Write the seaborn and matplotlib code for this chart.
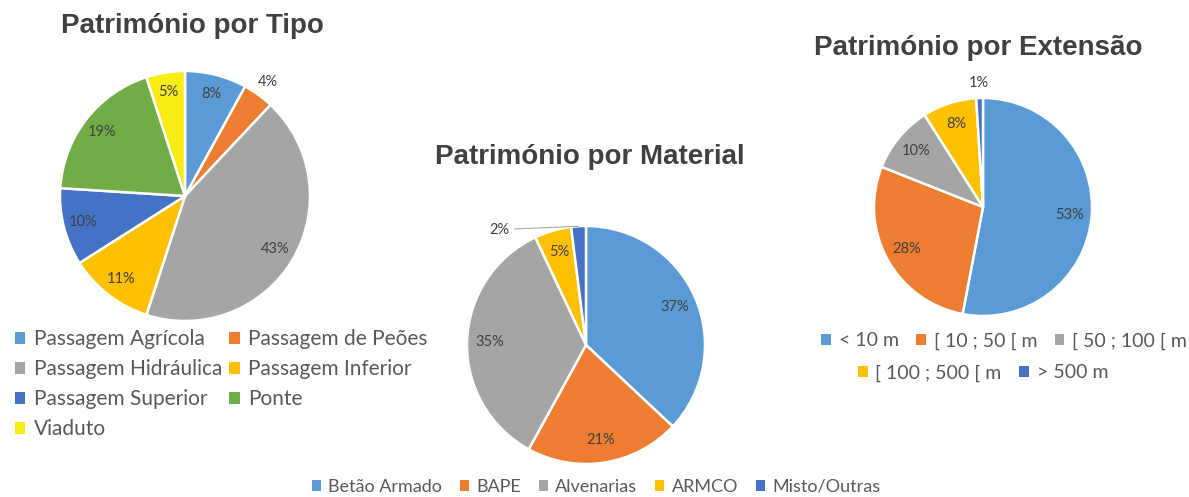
import numpy as np
import matplotlib
matplotlib.use("Agg")
import matplotlib.pyplot as plt
import seaborn as sns
from matplotlib.patches import Patch

sns.set_theme(style="white")
plt.rcParams['font.family'] = ['Lato', 'DejaVu Sans']

# dados
tipo_labels = ['Passagem Agrícola', 'Passagem de Peões', 'Passagem Hidráulica',
               'Passagem Inferior', 'Passagem Superior', 'Ponte', 'Viaduto']
tipo_values = [8, 4, 43, 11, 10, 19, 5]
tipo_colors = ['#5B9BD5', '#ED7D31', '#A5A5A5', '#FFC000', '#4472C4', '#70AD47', '#F7EC13']

mat_labels = ['Betão Armado', 'BAPE', 'Alvenarias', 'ARMCO', 'Misto/Outras']
mat_values = [37, 21, 35, 5, 2]
mat_colors = ['#5B9BD5', '#ED7D31', '#A5A5A5', '#FFC000', '#4472C4']

ext_labels = ['< 10 m', '[ 10 ; 50 [ m', '[ 50 ; 100 [ m', '[ 100 ; 500 [ m', '> 500 m']
ext_values = [53, 28, 10, 8, 1]
ext_colors = ['#5B9BD5', '#ED7D31', '#A5A5A5', '#FFC000', '#4472C4']

W, H = 1189, 497
fig = plt.figure(figsize=(W / 100, H / 100), dpi=100)

def fx(x):
    return x / W

def fy(y):
    return 1 - y / H

def pie_axes(cx, cy, r):
    return fig.add_axes([fx(cx - r), fy(cy + r), 2 * r / W, 2 * r / H])

txt_color = '#404040'
leg_color = '#595959'


def draw_pie(ax, values, colors, pctdist, outside):
    # outside = indices of small slices labelled outside the pie
    wedges, _, autotexts = ax.pie(values, colors=sns.color_palette(colors),
                                  startangle=90, counterclock=False,
                                  autopct=lambda p: '%d%%' % round(p),
                                  pctdistance=pctdist,
                                  wedgeprops=dict(edgecolor='white', linewidth=1.8),
                                  textprops=dict(color=txt_color, fontsize=10.5))
    for i in outside:
        autotexts[i].set_visible(False)
    ax.set_xlim(-1, 1)
    ax.set_ylim(-1, 1)
    ax.set_aspect('equal')
    ax.axis('off')
    return wedges, autotexts


# Pie 1 - tipo
ax1 = pie_axes(185, 196, 125)
w1, t1 = draw_pie(ax1, tipo_values, tipo_colors, 0.84, [1])
th = np.deg2rad((w1[1].theta1 + w1[1].theta2) / 2)
ax1.text(1.13 * np.cos(th), 1.13 * np.sin(th), '4%', ha='center', va='center',
         color=txt_color, fontsize=10.5)

# Pie 2 - material
ax2 = pie_axes(586, 345, 119)
w2, t2 = draw_pie(ax2, mat_values, mat_colors, 0.81, [4])
th = np.deg2rad((w2[4].theta1 + w2[4].theta2) / 2)
ax2.annotate('2%', xy=(np.cos(th), np.sin(th)), xytext=(-0.64, 0.97),
             ha='right', va='center', color=txt_color, fontsize=10.5,
             arrowprops=dict(arrowstyle='-', color='#a6a6a6', lw=0.8,
                             shrinkA=1, shrinkB=0))

# Pie 3 - extensao
ax3 = pie_axes(983, 207, 109)
w3, t3 = draw_pie(ax3, ext_values, ext_colors, 0.8, [4])
th = np.deg2rad((w3[4].theta1 + w3[4].theta2) / 2)
ax3.text(1.14 * np.cos(th), 1.14 * np.sin(th), '1%', ha='center', va='center',
         color=txt_color, fontsize=10.5)

# titulos
tfont = dict(family='Liberation Sans', weight='bold', size=20, color=txt_color,
             ha='center', va='center')
fig.text(fx(192), fy(26), 'Património por Tipo', **tfont)
fig.text(fx(590), fy(157), 'Património por Material', **tfont)
fig.text(fx(978), fy(48), 'Património por Extensão', **tfont)

# legendas
def handles(colors):
    return [Patch(facecolor=c, edgecolor='none') for c in colors]

leg_kw = dict(frameon=False, handlelength=0.5, handleheight=0.5,
              handletextpad=0.4, borderpad=0, borderaxespad=0, labelcolor=leg_color)

order = [0, 2, 4, 6, 1, 3, 5]
fig.legend([handles(tipo_colors)[i] for i in order], [tipo_labels[i] for i in order],
           loc='upper left', bbox_to_anchor=(fx(15), fy(329)), ncol=2, fontsize=15,
           columnspacing=0.35, labelspacing=0.48, **leg_kw)

fig.legend(handles(mat_colors), mat_labels, loc='center', fontsize=13,
           bbox_to_anchor=(fx(596), fy(487)), ncol=5, columnspacing=1.0, **leg_kw)

fig.legend(handles(ext_colors[:3]), ext_labels[:3], loc='center', fontsize=14,
           bbox_to_anchor=(fx(1004), fy(341)), ncol=3, columnspacing=0.9, **leg_kw)
fig.legend(handles(ext_colors[3:]), ext_labels[3:], loc='center', fontsize=14,
           bbox_to_anchor=(fx(983), fy(373)), ncol=2, columnspacing=0.9, **leg_kw)

fig.savefig('out.png', dpi=100, facecolor='white')
